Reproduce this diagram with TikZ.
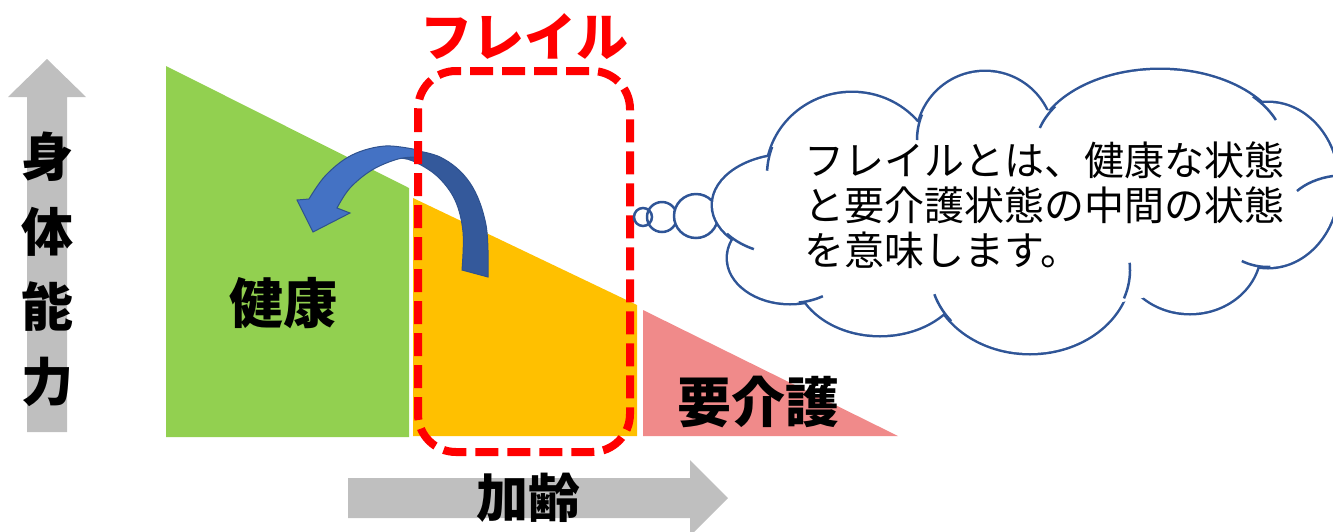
\documentclass[tikz,border=0pt]{standalone}
\usepackage{fontspec}
\newfontfamily\jp{Noto Sans CJK JP}
\definecolor{healthgreen}{HTML}{92D050}
\definecolor{frailorange}{HTML}{FFC000}
\definecolor{carepink}{HTML}{F08A8A}
\definecolor{axisgray}{HTML}{BFBFBF}
\definecolor{cloudblue}{HTML}{2F5597}
\definecolor{arrowlight}{HTML}{4472C4}
\definecolor{arrowdark}{HTML}{34599B}
\definecolor{arrowedge}{HTML}{2F528F}
\tikzset{
  bigbold/.style={font=\jp\bfseries\fontsize{54}{60}\selectfont, inner sep=0pt},
  cloudline/.style={draw=cloudblue, line width=5pt},
  bubble/.style={draw=cloudblue, line width=2.5pt},
  stub/.style={draw=cloudblue, line width=2.5pt},
}
\begin{document}
\begin{tikzpicture}[x=1pt,y=-1pt]
\useasboundingbox (0,0) rectangle (1333,531);

% gray axis arrows
\fill[axisgray] (27,432) -- (27,97) -- (8,97) -- (47,59) -- (86,97) -- (67,97) -- (67,432) -- cycle;
\fill[axisgray] (348,478) -- (690,478) -- (690,460) -- (728,498) -- (690,536) -- (690,518) -- (348,518) -- cycle;

% regions
\fill[healthgreen] (166,66) -- (409,188) -- (409,437) -- (166,437) -- cycle;
\fill[frailorange] (413,198) -- (637,305) -- (637,436) -- (413,436) -- cycle;
\fill[carepink] (643,310) -- (898,436) -- (643,436) -- cycle;

% labels
\node[bigbold] (kenko) at (283,303) {健康};
\node[bigbold] (yokaigo) at (758,402) {要介護};
\node[bigbold, font=\jp\bfseries\fontsize{52}{58}\selectfont] (karei) at (528,498) {加齢};
\node[bigbold, font=\jp\bfseries\fontsize{52}{75}\selectfont, align=center] (shintai) at (47,269) {身\\体\\能\\力};

% curved arrow: dark back part
\filldraw[fill=arrowdark, draw=arrowedge, line width=1pt]
  plot[smooth, tension=0.6] coordinates {(398,148) (440,157) (470,183) (486,225) (488,277)}
  -- (462,270)
  -- plot[smooth, tension=0.6] coordinates {(462,270) (463,232) (455,200) (437,176) (413,161) (398,158)}
  -- cycle;
% curved arrow: light front part with head
\filldraw[fill=arrowlight, draw=arrowedge, line width=1pt]
  plot[smooth, tension=0.6] coordinates {(418,150) (385,146) (352,155) (326,175) (309,199)}
  -- (297,200) -- (313,232) -- (350,213) -- (337,208)
  -- plot[smooth, tension=0.6] coordinates {(337,208) (350,188) (372,170) (398,159) (418,157)}
  -- cycle;

% frail dashed box and title
\draw[red, line width=8pt, dash pattern=on 23pt off 9pt, rounded corners=38pt]
  (418,71) rectangle (630,452);
\node[bigbold, text=red, font=\jp\bfseries\fontsize{52}{58}\selectfont] (frail) at (524,37) {フレイル};

% thought bubbles
\draw[bubble] (643,217) circle [radius=9];
\draw[bubble] (662,217) circle [radius=15];
\filldraw[bubble, fill=white] (696,216) circle [radius=22];

% cloud: union of ellipses
\foreach \cx/\cy/\rx/\ry in {852/175/85/82, 985/140/68/68, 1160/150/125/80, 1268/185/70/82,
  1190/250/70/63, 1030/270/100/83, 880/270/85/65, 790/258/62/45, 790/205/77/50}
  \draw[cloudline] (\cx,\cy) ellipse [x radius=\rx, y radius=\ry];
\foreach \cx/\cy/\rx/\ry in {852/175/85/82, 985/140/68/68, 1160/150/125/80, 1268/185/70/82,
  1190/250/70/63, 1030/270/100/83, 880/270/85/65, 790/258/62/45, 790/205/77/50}
  \fill[white] (\cx,\cy) ellipse [x radius=\rx, y radius=\ry];
\fill[white] (1030,210) ellipse [x radius=235, y radius=100];

% inner stubs of the cloud puffs
\foreach \cx/\cy/\rx/\ry/\ta/\tb in {985/140/68/68/202/180, 1160/150/125/80/213/196,
  1160/150/125/80/318/338, 1268/185/70/82/88/112, 1030/270/100/83/20/-5,
  1030/270/100/83/142/163, 790/258/62/45/82/58, 790/205/77/50/145/118,
  852/175/85/82/200/183}
  \draw[stub] plot[domain=\ta:\tb, samples=15] ({\cx+\rx*cos(\x)},{\cy+\ry*sin(\x)});
\draw[stub] (1333,176) .. controls (1318,178) and (1305,184) .. (1297,191);

\node[anchor=west, align=left, inner sep=0pt, font=\jp\fontsize{40}{45}\selectfont] (cloudtext) at (804,205)
  {フレイルとは、健康な状態\\と要介護状態の中間の状態\\を意味します。};
\end{tikzpicture}
\end{document}
